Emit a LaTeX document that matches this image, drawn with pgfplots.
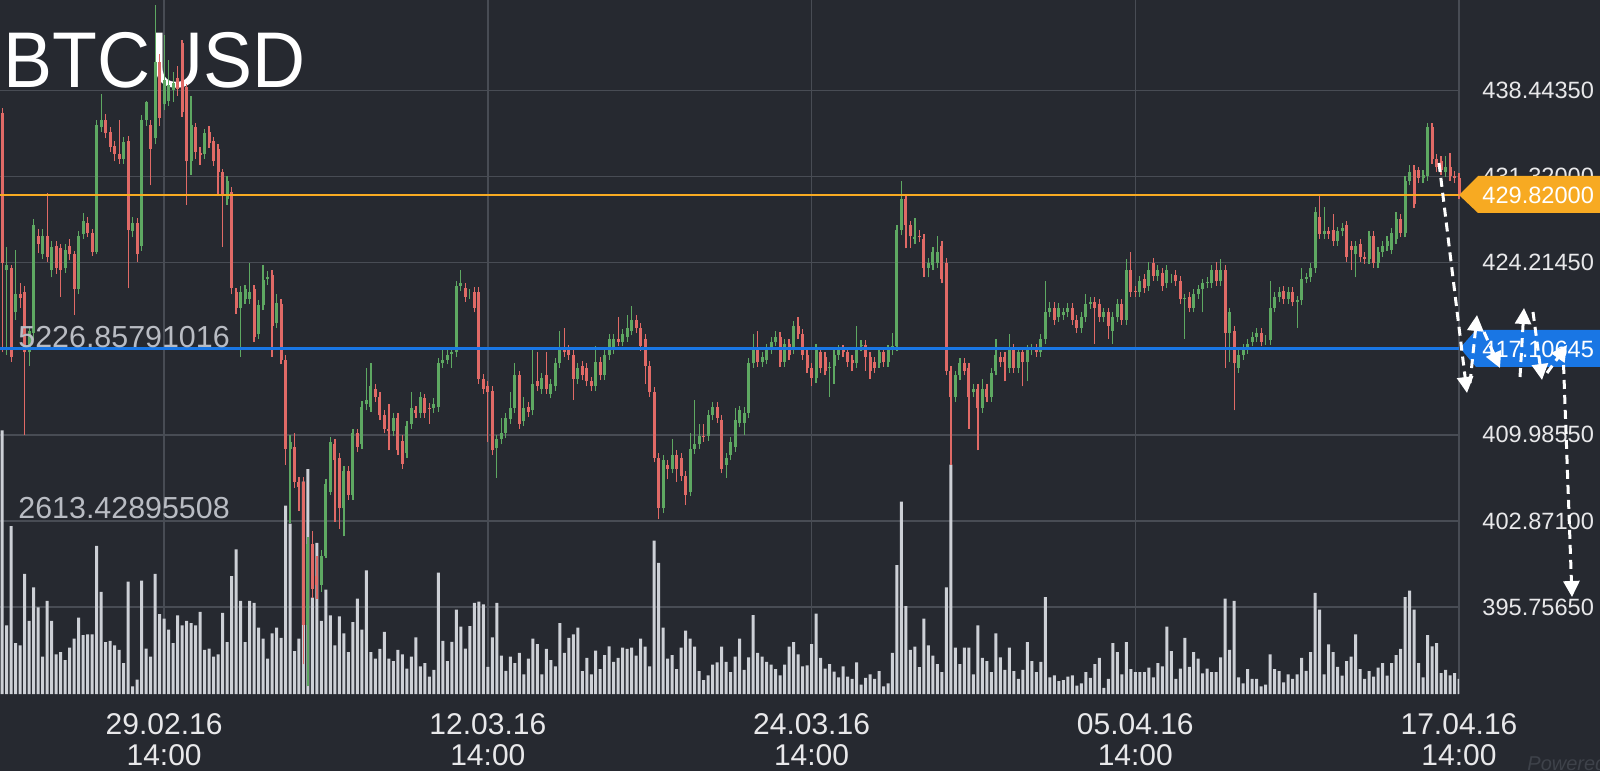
\documentclass[border=0pt]{standalone}
\usepackage{graphicx}
\usepackage{pgfplots}
\pgfplotsset{compat=1.18}
\usepackage{pgfplotstable}
\usepackage{fontspec}
\setmainfont{Liberation Sans}
\usetikzlibrary{arrows.meta}
\definecolor{bgc}{RGB}{38,41,48}
\definecolor{gridc}{RGB}{72,76,84}
\definecolor{upc}{RGB}{94,168,98}
\definecolor{dnc}{RGB}{224,106,102}
\definecolor{volc}{RGB}{205,208,214}
\definecolor{orc}{RGB}{247,170,34}
\definecolor{blc}{RGB}{25,118,228}
\definecolor{labc}{RGB}{232,232,234}
\definecolor{vlabc}{RGB}{185,188,195}
\definecolor{powc}{RGB}{62,66,74}

\pgfplotstableread{
k o h l c v
0 436.6 437.0 416.8 424.2 3972
1 423.6 425.5 416.6 424.0 1035
2 423.8 424.0 416.0 416.4 2527
3 420.1 425.3 419.5 421.6 766
4 421.6 422.5 420.5 421.3 732
5 421.8 422.3 410.0 416.8 1808
6 416.8 419.0 415.7 418.6 1102
7 418.4 427.8 417.8 427.3 1606
8 426.4 427.0 425.0 425.8 1304
9 424.9 427.0 424.5 426.4 564
10 426.4 430.0 424.3 424.7 1404
11 423.6 426.0 423.0 425.5 1102
12 425.6 426.0 423.3 423.8 598
13 425.4 425.8 421.4 423.6 632
14 423.8 425.8 423.4 425.3 511
15 425.6 426.2 424.4 424.9 699
16 424.9 425.2 419.9 422.0 833
17 422.0 426.8 421.6 426.4 1149
18 426.6 428.3 426.2 427.7 887
19 427.5 428.0 426.3 426.7 900
20 426.7 427.0 424.8 425.1 900
21 425.1 436.0 424.9 435.6 2231
22 435.4 438.2 435.0 436.0 1539
23 436.0 436.5 434.5 434.9 780
24 435.0 435.4 433.4 433.8 800
25 433.9 434.3 432.6 433.2 732
26 433.2 436.0 432.4 432.8 665
27 432.8 434.6 432.4 434.2 464
28 434.3 434.7 422.1 426.9 1693
29 426.8 428.0 426.3 427.5 114
30 427.5 427.9 424.3 424.9 215
31 425.6 436.4 425.2 436.0 1707
32 436.0 437.6 435.5 437.5 685
33 435.6 436.0 430.6 433.6 564
34 434.5 445.5 434.0 440.8 1808
35 440.8 441.5 435.5 436.2 1203
36 437.3 443.0 436.8 439.3 1136
37 437.6 441.0 437.2 438.9 968
38 438.5 440.0 437.5 439.1 766
39 439.5 440.5 438.0 438.6 1183
40 442.4 442.6 436.3 436.7 1035
41 438.7 439.0 429.0 432.6 1102
42 432.6 438.0 431.5 435.6 1068
43 435.4 435.8 432.8 433.4 1035
44 433.3 433.8 432.3 433.1 1236
45 433.2 435.3 432.8 434.9 665
46 435.0 435.5 433.7 434.1 685
47 434.3 434.6 432.2 432.6 564
48 433.6 434.0 429.7 431.7 598
49 431.7 432.0 425.5 429.7 1223
50 429.5 431.4 429.0 431.0 780
51 430.1 430.5 421.6 422.1 1774
52 421.8 422.1 420.0 420.5 2177
53 420.5 422.3 416.4 421.8 1404
54 421.2 422.4 420.8 422.0 780
55 421.2 424.2 420.8 421.8 1404
56 422.0 422.4 417.7 418.1 1371
57 418.3 421.1 417.9 420.7 1001
58 420.7 424.0 420.3 422.8 833
59 422.9 423.5 422.4 423.0 531
60 423.2 423.6 416.4 419.0 914
61 419.2 421.6 418.8 420.9 1001
62 420.8 421.2 415.8 416.2 847
63 416.2 416.6 407.5 408.8 2836
64 408.8 410.0 402.7 409.4 2567
65 409.0 410.1 405.6 406.1 645
66 406.1 406.5 403.7 405.7 833
67 406.1 406.5 391.0 394.3 3199
68 394.3 401.5 389.2 401.0 3387
69 401.0 402.0 396.5 397.2 1452
70 398.3 400.0 396.4 397.6 2278
71 397.6 400.5 397.0 400.0 1102
72 400.0 406.3 399.8 405.9 1572
73 405.3 409.8 405.0 409.4 1183
74 409.2 409.6 402.8 407.9 732
75 408.1 408.5 402.2 403.9 1169
76 403.9 407.4 401.6 407.0 914
77 407.0 407.4 404.6 405.0 632
78 405.0 410.5 404.6 410.1 1082
79 410.1 410.5 408.6 409.0 1438
80 409.2 412.8 408.8 412.3 968
81 412.5 415.5 412.0 412.9 1861
82 412.3 415.9 411.9 414.0 632
83 413.8 414.2 412.7 413.1 531
84 413.1 413.5 411.2 411.6 679
85 411.6 412.0 410.1 410.5 934
86 410.5 412.5 408.7 410.3 531
87 410.3 411.8 409.9 411.4 497
88 411.4 411.8 408.3 408.7 665
89 409.5 410.0 407.2 407.6 598
90 408.5 411.1 408.1 410.7 383
91 410.9 413.5 410.5 412.2 564
92 412.0 412.4 411.4 411.8 853
93 411.8 413.5 411.4 413.1 417
94 413.0 413.4 411.4 411.8 464
95 412.2 412.6 410.9 412.1 262
96 412.2 413.0 411.8 412.5 363
97 412.3 416.3 411.9 415.9 1828
98 415.9 417.0 415.5 416.2 800
99 416.2 417.0 415.8 416.6 497
100 416.7 417.2 415.5 416.8 786
101 416.8 422.7 416.4 422.3 1270
102 422.3 423.6 421.9 422.5 1015
103 422.1 422.5 421.0 421.4 685
104 421.6 422.0 421.2 421.6 1021
105 421.8 422.2 420.1 420.5 1371
106 421.8 422.2 414.2 414.6 1391
107 414.6 415.0 413.4 413.8 1351
108 414.0 414.4 409.4 413.5 410
109 413.6 414.0 408.3 408.7 853
110 408.9 410.0 406.4 409.6 1371
111 409.6 411.4 409.2 410.1 578
112 410.1 411.8 409.7 411.4 349
113 411.3 413.5 410.9 412.2 564
114 412.2 415.9 411.8 414.9 464
115 414.9 415.3 410.5 410.9 618
116 411.1 413.1 410.7 412.2 296
117 412.3 412.7 411.5 411.9 531
118 412.0 417.1 411.6 414.2 833
119 414.4 416.8 413.6 414.0 753
120 413.8 415.1 413.4 414.7 296
121 414.9 416.8 413.4 413.8 679
122 413.4 414.6 413.0 414.2 511
123 414.0 416.3 413.6 415.9 417
124 415.9 418.6 415.5 417.0 1068
125 417.0 418.8 416.4 416.8 618
126 417.0 417.4 416.2 416.6 847
127 416.6 417.0 412.9 414.6 900
128 414.6 415.9 414.2 415.5 1001
129 415.7 416.1 414.5 414.9 343
130 415.5 415.9 414.0 414.4 544
131 414.4 414.8 413.6 414.0 296
132 414.0 417.3 413.6 416.0 652
133 416.0 416.4 414.5 414.9 376
134 414.9 417.0 414.5 416.6 585
135 416.6 418.3 416.2 417.9 719
136 417.1 418.3 416.7 417.9 484
137 417.9 419.7 417.3 417.7 544
138 417.7 418.7 417.3 418.3 699
139 418.1 419.9 417.7 418.8 679
140 418.6 420.6 418.2 419.5 699
141 419.5 419.9 418.4 418.8 578
142 418.8 419.2 416.9 417.3 833
143 417.9 418.3 414.2 415.7 712
144 415.7 416.1 413.1 413.5 417
145 413.5 413.9 407.7 408.1 2312
146 408.1 408.5 403.0 403.9 1976
147 403.9 408.3 403.5 407.9 1001
148 407.5 407.9 406.3 407.2 531
149 407.2 409.6 406.8 408.3 585
150 408.3 408.7 406.1 407.2 376
151 408.1 408.5 406.2 406.6 699
152 406.6 407.0 404.2 405.0 954
153 405.3 410.1 404.9 408.8 833
154 408.8 412.9 408.4 409.2 712
155 409.2 410.9 408.8 409.9 343
156 409.9 410.9 409.4 409.8 208
157 409.9 412.0 409.5 411.6 282
158 411.6 412.7 411.2 412.3 444
159 412.3 412.7 411.0 411.4 477
160 411.2 411.6 406.8 407.2 712
161 407.5 408.5 406.4 408.1 484
162 408.3 409.8 407.9 409.4 329
163 409.0 412.2 408.6 411.2 564
164 411.0 412.4 410.6 412.0 833
165 411.0 412.3 410.0 411.8 363
166 411.8 416.3 411.4 415.9 551
167 415.9 418.3 415.5 417.1 1189
168 417.1 418.6 415.6 416.0 618
169 416.0 416.8 415.6 416.4 564
170 416.2 417.5 415.8 417.1 484
171 417.1 418.1 416.7 417.7 444
172 417.7 418.6 417.3 418.1 376
173 418.1 418.5 415.6 416.0 282
174 416.0 417.9 415.6 417.5 444
175 417.5 417.9 416.2 416.6 712
176 417.1 419.4 416.7 419.0 780
177 419.0 419.7 417.9 418.3 598
178 418.3 418.7 416.2 416.6 417
179 416.6 417.0 415.1 415.5 430
180 415.5 415.9 414.0 414.7 753
181 414.7 417.5 414.3 417.1 1210
182 416.8 417.2 415.1 415.5 544
183 416.4 416.8 414.9 415.3 383
184 415.5 416.0 413.1 415.6 450
185 415.7 417.0 414.2 416.6 336
186 416.6 417.4 416.2 417.0 249
187 417.0 417.4 416.4 416.8 417
188 416.8 417.2 415.6 416.0 262
189 416.2 416.6 415.3 415.9 228
190 415.9 419.0 415.5 417.0 477
191 417.3 417.8 416.9 417.4 141
192 417.4 417.8 415.3 416.4 242
193 416.4 416.8 414.6 415.3 296
194 416.0 416.4 415.1 415.5 228
195 415.9 417.2 415.5 416.8 343
196 416.8 417.2 415.6 416.0 114
197 416.0 417.4 415.6 417.0 161
198 417.0 418.4 416.6 417.3 618
199 417.3 427.3 416.9 426.9 1942
200 426.9 431.0 426.5 429.5 2896
201 429.5 429.9 425.4 427.3 1324
202 427.3 427.7 425.4 426.4 665
203 426.2 427.9 425.8 426.3 712
204 426.4 426.9 425.9 426.3 403
205 426.2 426.6 423.0 423.8 1136
206 423.8 424.6 423.0 424.2 732
207 424.0 425.5 423.6 425.1 578
208 424.2 426.4 423.8 425.1 450
209 425.6 426.0 422.5 422.9 329
210 424.2 424.6 414.9 415.3 1606
211 415.3 415.7 407.5 413.1 3454
212 413.1 415.3 412.7 414.9 699
213 414.9 416.3 414.5 415.9 450
214 415.9 416.3 414.9 415.3 699
215 415.5 415.9 410.5 413.1 699
216 413.5 414.2 413.1 413.8 296
217 413.8 414.2 408.7 412.2 1035
218 412.2 414.6 411.8 413.8 544
219 413.8 414.2 412.7 413.1 497
220 413.1 415.5 412.7 415.1 329
221 415.3 417.9 414.9 416.6 914
222 416.4 416.8 415.6 416.0 551
223 416.4 416.8 414.4 416.0 363
224 415.5 418.3 415.1 417.1 699
225 417.1 417.5 415.1 415.5 343
226 415.5 417.2 415.1 416.8 228
227 416.8 417.2 414.0 416.0 363
228 416.0 417.4 414.4 417.0 780
229 417.0 417.5 416.6 417.1 497
230 417.1 417.5 416.4 416.8 329
231 416.8 418.3 416.4 417.9 484
232 417.9 422.7 417.5 420.1 1458
233 420.1 421.0 419.7 420.5 249
234 420.5 421.0 419.1 419.5 282
235 419.7 420.9 419.3 420.5 195
236 419.9 420.5 419.5 420.1 208
237 420.1 420.9 419.7 420.5 262
238 420.5 420.9 419.1 419.5 282
239 419.5 419.9 418.4 418.8 128
240 418.8 420.1 418.4 419.7 161
241 419.7 421.6 419.3 420.8 329
242 420.8 421.4 420.4 421.0 242
243 421.0 421.4 417.5 420.5 450
244 420.8 421.2 419.3 419.7 544
245 419.7 420.5 419.3 420.1 94
246 420.1 420.5 417.9 419.0 228
247 418.6 420.1 417.5 419.7 766
248 419.7 421.2 419.3 420.8 632
249 420.8 421.2 419.1 419.5 296
250 419.5 424.5 419.1 423.6 780
251 423.6 425.1 421.4 421.8 376
252 421.9 422.3 421.4 421.8 329
253 421.8 423.1 421.4 422.7 329
254 422.9 423.3 421.7 422.1 329
255 422.3 424.3 421.9 423.6 396
256 424.2 424.6 422.7 423.1 249
257 423.1 424.0 422.7 423.6 464
258 423.4 423.8 421.9 422.3 417
259 422.5 424.0 422.1 423.6 1015
260 422.9 423.3 422.5 422.9 645
261 423.2 423.6 422.3 422.7 228
262 422.7 423.1 420.8 421.2 383
263 421.2 421.6 417.9 421.3 847
264 421.4 421.8 420.1 420.5 410
265 420.5 422.0 420.1 421.6 632
266 421.6 422.4 421.2 422.0 531
267 422.0 422.9 420.1 422.5 309
268 422.5 423.0 422.1 422.6 383
269 422.5 424.0 422.1 423.6 329
270 423.6 424.3 422.3 422.7 329
271 422.7 424.5 422.3 423.6 551
272 423.6 424.0 415.5 418.4 1438
273 418.4 420.5 416.0 420.1 665
274 418.6 419.0 412.0 415.9 1404
275 415.5 417.0 415.1 416.6 249
276 416.6 417.5 416.2 417.1 161
277 417.1 417.9 416.7 417.5 376
278 417.7 418.5 417.3 418.1 228
279 418.1 418.8 417.7 418.4 228
280 418.4 418.8 417.3 417.7 114
281 417.8 418.2 417.4 417.8 141
282 417.8 422.7 417.4 420.5 598
283 420.5 421.8 420.1 421.4 376
284 421.4 422.2 421.0 421.8 343
285 421.9 422.3 420.8 421.2 175
286 421.2 422.2 420.8 421.8 296
287 421.8 422.2 420.6 421.0 228
288 421.0 421.5 418.8 421.1 296
289 421.1 423.8 420.7 422.9 544
290 422.9 423.4 422.5 423.0 349
291 423.0 424.2 422.6 423.8 632
292 423.8 428.8 423.4 428.4 1525
293 428.0 429.9 426.2 426.6 1270
294 426.6 428.8 426.2 426.8 296
295 426.8 427.2 426.2 426.6 746
296 426.9 428.2 425.6 426.0 632
297 426.0 427.2 425.6 426.8 410
298 426.8 427.5 426.4 427.1 276
299 427.3 427.7 424.3 424.7 497
300 425.6 426.0 423.6 425.3 564
301 424.9 426.0 423.0 425.6 900
302 425.8 426.2 424.3 424.7 376
303 424.7 425.1 424.1 424.5 228
304 424.5 426.8 424.1 426.4 343
305 426.4 426.8 423.8 424.2 262
306 424.2 425.5 423.8 425.1 396
307 425.1 426.0 424.7 425.6 464
308 425.6 426.4 425.2 426.0 276
309 425.3 427.1 424.9 426.7 464
310 426.2 428.4 425.8 427.8 585
311 427.8 428.2 426.3 426.7 679
312 426.7 431.4 426.3 431.0 1458
313 431.0 432.3 430.6 431.7 1559
314 431.9 432.3 428.7 429.1 1270
315 431.9 432.1 430.8 431.2 464
316 431.2 431.9 430.8 431.5 249
317 431.4 435.8 431.0 435.4 887
318 435.4 435.8 432.4 432.8 719
319 432.8 433.2 431.7 432.1 766
320 432.6 433.0 431.5 431.9 316
321 431.7 433.0 431.3 432.1 363
322 432.1 433.3 431.0 431.4 282
323 431.4 431.8 430.8 431.2 316
324 431.2 431.6 429.5 429.82 228
}\data

\begin{document}
\begin{tikzpicture}
\path[use as bounding box, fill=bgc] (0,-38.5pt) rectangle (800pt,347pt);
\pgfplotsset{common/.style={at={(0,0)}, anchor=south west, scale only axis,
  width=729.5pt, height=347pt, xmin=-0.5, xmax=324}}
% grid and tick labels
\begin{axis}[common, ymin=388.56, ymax=445.933,
  axis line style={draw=none},
  xtick={36,108,180,252,324},
  xticklabels={{29.02.16\\14:00},{12.03.16\\14:00},{24.03.16\\14:00},{05.04.16\\14:00},{17.04.16\\14:00}},
  xticklabel style={align=center, font=\fontsize{15}{15.5}\selectfont, text=labc, inner sep=0pt, yshift=-9.5pt},
  ytick={395.7565,402.871,409.9855,417.10645,424.2145,431.32,438.4435},
  yticklabels={395.75650,402.87100,409.98550,417.10645,424.21450,431.32000,438.44350},
  yticklabel pos=right,
  yticklabel style={anchor=west, font=\fontsize{11.8}{12}\selectfont, text=labc, inner sep=0pt, xshift=11.5pt},
  major tick length=0pt,
  grid=major, grid style={gridc, line width=0.7pt}]
\end{axis}
% volume
\begin{axis}[common, ymin=0, ymax=10453.7, hide axis]
\addplot[ybar, bar width=1.5pt, fill=volc, draw=none] table[x=k, y=v] {\data};
\end{axis}
% title
\begin{scope}[x=0.5pt, y=-0.5pt, shift={(0,347pt)}]
\node[anchor=base west, inner sep=0pt, text=white, font=\fontsize{39.5}{40}\selectfont] at (3,88) {\scalebox{0.93}[1]{BTCUSD}};
\end{scope}
% candles
\begin{axis}[common, ymin=388.56, ymax=445.933, hide axis, clip=false]
\addplot[draw=none, forget plot, restrict expr to domain={\thisrow{c}-\thisrow{o}}{0:1000},
  error bars/.cd, y dir=plus, y explicit, error mark=none,
  error bar style={draw=upc, line width=0.6pt}]
  table[x=k, y=l, y error expr=\thisrow{h}-\thisrow{l}] {\data};
\addplot[draw=none, forget plot, restrict expr to domain={\thisrow{c}-\thisrow{o}}{-1000:-0.001},
  error bars/.cd, y dir=plus, y explicit, error mark=none,
  error bar style={draw=dnc, line width=0.6pt}]
  table[x=k, y=l, y error expr=\thisrow{h}-\thisrow{l}] {\data};
\addplot[draw=none, forget plot, restrict expr to domain={\thisrow{c}-\thisrow{o}}{0:1000},
  error bars/.cd, y dir=plus, y explicit, error mark=none,
  error bar style={draw=upc, line width=1.5pt}]
  table[x=k, y=o, y error expr=\thisrow{c}-\thisrow{o}] {\data};
\addplot[draw=none, forget plot, restrict expr to domain={\thisrow{c}-\thisrow{o}}{-1000:-0.001},
  error bars/.cd, y dir=plus, y explicit, error mark=none,
  error bar style={draw=dnc, line width=1.5pt}]
  table[x=k, y=c, y error expr=\thisrow{o}-\thisrow{c}] {\data};
\addplot[blc, line width=1.3pt] coordinates {(-0.5,417.10645) (324,417.10645)};
\addplot[orc, line width=0.8pt] coordinates {(-0.5,429.82) (324,429.82)};
\end{axis}
\begin{scope}[x=0.5pt, y=-0.5pt, shift={(0,347pt)}]
\node[anchor=west, inner sep=0pt, text=vlabc, font=\fontsize{15.2}{16}\selectfont] at (18,337) {5226.85791016};
\node[anchor=west, inner sep=0pt, text=vlabc, font=\fontsize{15.2}{16}\selectfont] at (18,508) {2613.42895508};
\fill[orc] (1459,195) -- (1478,176) -- (1600,176) -- (1600,213) -- (1478,213) -- cycle;
\node[anchor=west, inner sep=0pt, text=white, font=\fontsize{11.8}{12}\selectfont] at (1482,195) {429.82000};
\fill[blc] (1460,348) -- (1476,330) -- (1600,330) -- (1600,367) -- (1476,367) -- cycle;
\node[anchor=west, inner sep=0pt, text=white, font=\fontsize{11.8}{12}\selectfont] at (1482,349) {417.10645};
\begin{scope}[draw=white, fill=white, line width=1.5pt, dash pattern=on 4.5pt off 3pt, -{Triangle[length=8pt, width=8pt]}]
\draw (1439,163) -- (1467,393);
\draw (1470,383) -- (1477,315);
\draw (1484,332) -- (1500,368);
\draw (1520,377) -- (1524,308);
\draw (1533,312) -- (1542,380);
\draw (1547,373) -- (1567,345);
\draw (1563,350) -- (1572,597);
\end{scope}
\node[anchor=base west, inner sep=0pt, text=powc, font=\fontsize{10}{10}\itshape] at (1527,770) {Powered by};
\end{scope}
\end{tikzpicture}
\end{document}
